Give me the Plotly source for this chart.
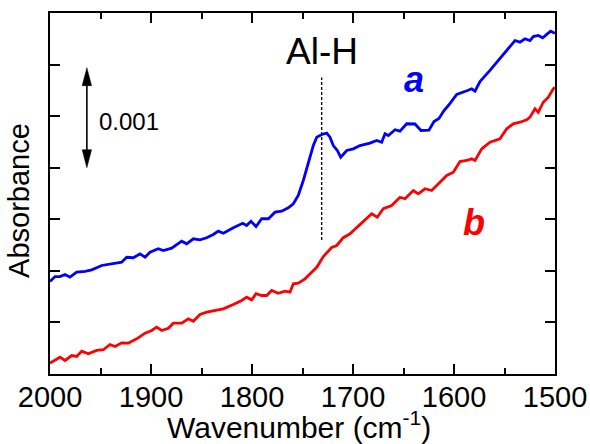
import plotly.graph_objects as go
import numpy as np

# ---- data (absorbance in units of 1e-3, offset traces) ----
blue_wn = [2000, 1995.0, 1990.1, 1985.1, 1980.2, 1973.6, 1965.3, 1958.7, 1948.8, 1938.9,
           1929.0, 1924.1, 1917.5, 1910.9, 1905.9, 1901.0, 1892.8, 1887.8, 1879.5, 1869.6,
           1864.7, 1858.1, 1851.5, 1844.9, 1838.3, 1833.4, 1828.4, 1818.5, 1809.2, 1805.3,
           1801.0, 1796.0, 1790.4, 1783.8, 1777.2, 1770.6, 1764.1, 1759.1, 1754.2, 1749.2,
           1744.2, 1739.3, 1735.9, 1730.9, 1726.0, 1722.8, 1719.5, 1715.5, 1712.2, 1706.2,
           1699.7, 1693.1, 1683.2, 1676.5, 1671.6, 1668.3, 1665.0, 1658.4, 1653.5, 1646.8,
           1638.6, 1632.7, 1624.8, 1619.8, 1614.9, 1609.9, 1605.6, 1597.3, 1586.6, 1582.5,
           1579.2, 1574.3, 1564.4, 1554.5, 1546.2, 1539.6, 1534.7, 1529.7, 1524.8, 1521.5,
           1516.6, 1512.2, 1507.6, 1504.3, 1500]
blue_abs = [0.897, 0.945, 0.945, 0.965, 0.939, 0.987, 0.994, 1.010, 1.052, 1.068,
            1.084, 1.132, 1.127, 1.165, 1.132, 1.181, 1.214, 1.197, 1.220, 1.288,
            1.262, 1.311, 1.301, 1.321, 1.353, 1.385, 1.365, 1.418, 1.462, 1.440,
            1.481, 1.430, 1.505, 1.505, 1.569, 1.578, 1.611, 1.650, 1.731, 1.876,
            2.038, 2.215, 2.296, 2.322, 2.335, 2.296, 2.215, 2.167, 2.102, 2.167,
            2.183, 2.215, 2.238, 2.264, 2.247, 2.329, 2.312, 2.368, 2.354, 2.426,
            2.424, 2.361, 2.364, 2.448, 2.477, 2.555, 2.603, 2.710, 2.749, 2.765,
            2.742, 2.836, 2.943, 3.056, 3.153, 3.233, 3.217, 3.250, 3.233, 3.272,
            3.282, 3.260, 3.298, 3.324, 3.304]

red_wn = [2000, 1995.0, 1990.1, 1985.1, 1978.5, 1973.6, 1968.6, 1962.1, 1953.8, 1947.2,
          1940.6, 1935.6, 1929.0, 1922.5, 1914.2, 1905.9, 1899.3, 1894.4, 1889.4, 1882.9,
          1877.9, 1869.6, 1863.1, 1858.1, 1851.5, 1844.9, 1838.3, 1828.4, 1818.5, 1810.2,
          1805.3, 1800.3, 1796.0, 1790.4, 1785.5, 1780.5, 1774.0, 1767.3, 1762.4, 1759.1,
          1754.2, 1747.5, 1740.9, 1735.9, 1729.4, 1721.1, 1716.1, 1709.9, 1703.0, 1694.8,
          1688.1, 1681.5, 1676.0, 1670.0, 1661.7, 1653.5, 1648.5, 1640.3, 1635.4, 1628.7,
          1622.1, 1615.5, 1607.2, 1600.7, 1594.1, 1587.4, 1582.5, 1579.2, 1572.6, 1564.4,
          1559.4, 1554.5, 1547.8, 1541.3, 1534.7, 1528.0, 1524.8, 1519.8, 1516.6, 1511.6,
          1506.6, 1501.7, 1500]
red_abs = [0.105, 0.131, 0.163, 0.131, 0.179, 0.170, 0.221, 0.196, 0.228, 0.235,
           0.286, 0.267, 0.302, 0.299, 0.341, 0.396, 0.422, 0.454, 0.422, 0.444,
           0.493, 0.493, 0.535, 0.512, 0.577, 0.599, 0.611, 0.632, 0.674, 0.713,
           0.745, 0.719, 0.778, 0.761, 0.761, 0.810, 0.783, 0.803, 0.793, 0.875,
           0.880, 0.923, 0.987, 1.035, 1.139, 1.226, 1.246, 1.319, 1.359, 1.433,
           1.488, 1.553, 1.520, 1.602, 1.634, 1.714, 1.699, 1.779, 1.747, 1.796,
           1.779, 1.844, 1.925, 1.957, 2.060, 2.070, 2.086, 2.070, 2.183, 2.247,
           2.264, 2.280, 2.377, 2.426, 2.441, 2.465, 2.490, 2.571, 2.538, 2.635,
           2.684, 2.765, 2.778]

x_ticks = [2000, 1900, 1800, 1700, 1600, 1500]
x_tick_labels = ["2000", "1900", "1800", "1700", "1600", "1500"]
alh_position = 1731          # Al-H band position (cm-1)
alh_line_span = [1.30, 2.875]
scale_bar = [2.0, 2.97]       # 0.001 absorbance scale bar
scale_bar_x = 1963.5

FONT = "Arial, 'Liberation Sans', sans-serif"

fig = go.Figure()
fig.add_trace(go.Scatter(x=blue_wn, y=blue_abs, mode="lines",
                         line=dict(color="#0000FF", width=2.8), showlegend=False))
fig.add_trace(go.Scatter(x=red_wn, y=red_abs, mode="lines",
                         line=dict(color="#FF0000", width=2.8), showlegend=False))

# dashed marker line for Al-H
fig.add_shape(type="line", x0=alh_position, x1=alh_position,
              y0=alh_line_span[0], y1=alh_line_span[1], xref="x", yref="y",
              line=dict(color="black", width=1.3, dash="3px,2px"))

# scale bar: shaft + two arrow heads (pixel-sized)
fig.add_shape(type="line", x0=scale_bar_x, x1=scale_bar_x, y0=scale_bar[0] + 0.1,
              y1=scale_bar[1] - 0.1, xref="x", yref="y",
              line=dict(color="black", width=1.6))
fig.add_shape(type="path", xref="x", yref="y", xsizemode="pixel", ysizemode="pixel",
              xanchor=scale_bar_x, yanchor=scale_bar[1],
              path="M0,0 L-4.7,-18 L4.7,-18 Z", fillcolor="black",
              line=dict(color="black", width=0.5))
fig.add_shape(type="path", xref="x", yref="y", xsizemode="pixel", ysizemode="pixel",
              xanchor=scale_bar_x, yanchor=scale_bar[0],
              path="M0,0 L-4.7,18 L4.7,18 Z", fillcolor="black",
              line=dict(color="black", width=0.5))

annotations = [
    dict(x=alh_position, y=3.13, xref="x", yref="y", text="Al-H", showarrow=False,
         font=dict(size=37, color="black", family=FONT), xanchor="center", yanchor="middle"),
    dict(x=1953.5, y=2.45, xref="x", yref="y", text="0.001", showarrow=False,
         font=dict(size=24, color="black", family=FONT), xanchor="left", yanchor="middle"),
    dict(x=1640, y=2.86, xref="x", yref="y", text="<b><i>a</i></b>", showarrow=False,
         font=dict(size=36, color="#0000FF", family=FONT), xanchor="center", yanchor="middle"),
    dict(x=1580, y=1.47, xref="x", yref="y", text="<b><i>b</i></b>", showarrow=False,
         font=dict(size=36, color="#FF0000", family=FONT), xanchor="center", yanchor="middle"),
    dict(x=0.493, y=-0.142, xref="paper", yref="paper",
         text="Wavenumber (cm<sup>-1</sup>)", showarrow=False,
         font=dict(size=30, color="black", family=FONT), xanchor="center", yanchor="middle"),
    dict(x=-0.061, y=0.48, xref="paper", yref="paper", text="Absorbance", textangle=-90,
         showarrow=False, font=dict(size=29, color="black", family=FONT),
         xanchor="center", yanchor="middle"),
]

fig.update_layout(
    width=590, height=444,
    margin=dict(l=50, r=35, t=13, b=70, pad=0, autoexpand=False),
    paper_bgcolor="white", plot_bgcolor="white",
    font=dict(family=FONT, color="black"),
    annotations=annotations,
)
fig.update_xaxes(range=[2000, 1500], tickmode="array", tickvals=x_ticks,
                 ticktext=x_tick_labels, ticks="inside", ticklen=10, tickwidth=1.5,
                 tickcolor="black", showline=True, linecolor="black", linewidth=2,
                 mirror="ticks", showgrid=False, zeroline=False, automargin=False,
                 ticklabelstandoff=-4,
                 tickfont=dict(size=29, family=FONT, color="black"),
                 minor=dict(dtick=50, tick0=0, ticks="inside", ticklen=6,
                            tickwidth=1.5, tickcolor="black", showgrid=False))
fig.update_yaxes(range=[0, 3.5], dtick=0.5, tick0=0, ticks="inside", ticklen=10,
                 tickwidth=1.5, tickcolor="black", showticklabels=False,
                 showline=True, linecolor="black", linewidth=2, mirror="ticks",
                 showgrid=False, zeroline=False, automargin=False)

fig.write_html("out.html")
